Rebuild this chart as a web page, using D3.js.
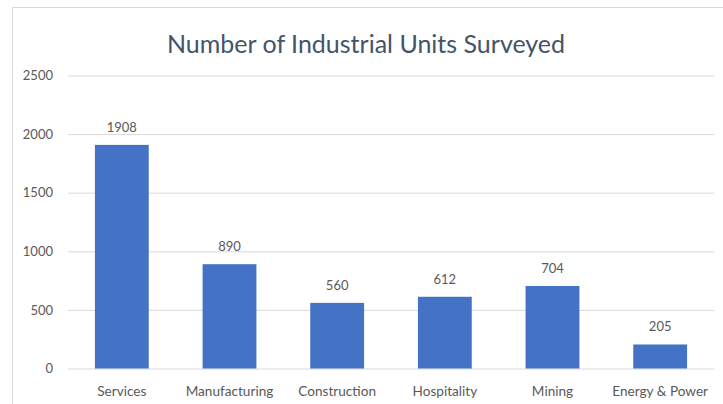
<!DOCTYPE html>
<html>
<head>
<meta charset="utf-8">
<script src="https://cdn.jsdelivr.net/npm/d3@7"></script>
<style>
  html, body { margin: 0; padding: 0; background: #fff; }
  svg { display: block; }
  text { font-family: Lato, "Open Sans", sans-serif; fill: #595959; }
</style>
</head>
<body>
<svg id="chart" width="723" height="404"></svg>
<script>
// Survey counts per industry
const categories = ["Services", "Manufacturing", "Construction", "Hospitality", "Mining", "Energy & Power"];
const unitCounts = [1908, 890, 560, 612, 704, 205];
const yTicks = [0, 500, 1000, 1500, 2000, 2500];
const chartTitle = "Number of Industrial Units Surveyed";

const svg = d3.select("#chart");
const W = 723, H = 404;

// chart area frame
svg.append("rect")
  .attr("x", 12.5).attr("y", 7.5)
  .attr("width", W).attr("height", H)
  .attr("fill", "none").attr("stroke", "#D9D9D9");

const x = d3.scaleBand()
  .domain(categories)
  .range([68, 714])
  .paddingInner(0.5)
  .paddingOuter(0.25);

const y = d3.scaleLinear()
  .domain([0, 2500])
  .range([368.5, 75.5]);

// horizontal gridlines + value axis labels
const yAxis = d3.axisLeft(y)
  .tickValues(yTicks)
  .tickSize(-(714 - 68))
  .tickPadding(15)
  .tickFormat(d3.format("d"));

const gy = svg.append("g")
  .attr("transform", "translate(68,0)")
  .call(yAxis);
gy.select(".domain").remove();
gy.selectAll(".tick line").attr("stroke", "#D9D9D9").attr("stroke-width", 1);
gy.selectAll(".tick text")
  .attr("font-size", 13)
  .attr("fill", "#595959")
  .style("font-family", "Lato, sans-serif");

// bars
svg.append("g").selectAll("rect")
  .data(categories)
  .join("rect")
  .attr("x", d => x(d))
  .attr("width", x.bandwidth())
  .attr("y", (d, i) => y(unitCounts[i]))
  .attr("height", (d, i) => y(0) - y(unitCounts[i]))
  .attr("fill", "#4472C4");

// value labels above bars
svg.append("g").selectAll("text")
  .data(categories)
  .join("text")
  .attr("x", d => x(d) + x.bandwidth() / 2)
  .attr("y", (d, i) => y(unitCounts[i]) - 13)
  .attr("text-anchor", "middle")
  .attr("font-size", 13)
  .text((d, i) => unitCounts[i]);

// category axis labels
const xAxis = d3.axisBottom(x).tickSize(0).tickPadding(18);
const gx = svg.append("g")
  .attr("transform", "translate(0,368.5)")
  .call(xAxis);
gx.select(".domain").remove();
gx.selectAll(".tick text")
  .attr("font-size", 13.6)
  .attr("fill", "#595959")
  .style("font-family", "Lato, sans-serif");

// title
svg.append("text")
  .attr("x", 366)
  .attr("y", 53)
  .attr("text-anchor", "middle")
  .attr("font-size", 25)
  .style("fill", "#44546A")
  .text(chartTitle);
</script>
</body>
</html>
